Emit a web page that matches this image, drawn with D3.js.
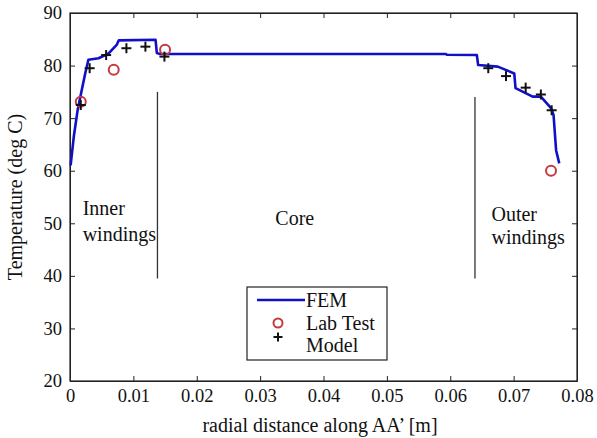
<!DOCTYPE html>
<html>
<head>
<meta charset="utf-8">
<script src="https://cdn.jsdelivr.net/npm/d3@7"></script>
<style>
  body { margin: 0; background: #fff; }
  svg text { font-family: "Liberation Serif", "DejaVu Serif", serif; fill: #111; }
  .axis text { font-size: 18.5px; }
  .axis path, .axis line { stroke: #222; }
</style>
</head>
<body>
<div id="chart"></div>
<script>
'use strict'

// FEM curve (radial distance [m], temperature [deg C])
var femX = [0.0001, 0.0006, 0.0012, 0.0018, 0.0024, 0.0029, 0.0045, 0.0061, 0.0074, 0.0077,
  0.0135, 0.0137, 0.0142, 0.0380, 0.0593, 0.0595, 0.0642, 0.0644, 0.0675, 0.0701,
  0.0703, 0.0730, 0.0743, 0.0759, 0.0763, 0.0767, 0.0772];
var femT = [61.0, 66.5, 71.5, 75.0, 78.5, 81.1, 81.4, 82.3, 84.0, 84.8,
  84.9, 82.4, 82.2, 82.2, 82.2, 82.05, 82.0, 80.1, 79.8, 78.5,
  75.7, 74.1, 74.1, 71.9, 70.6, 63.9, 61.4];

// Lab test points
var labX = [0.0017, 0.0069, 0.0150, 0.0759];
var labT = [73.1, 79.2, 83.0, 60.0];

// Model points
var modelX = [0.0017, 0.0031, 0.0057, 0.0089, 0.0119, 0.0149, 0.0660, 0.0688, 0.0719, 0.0743, 0.0760];
var modelT = [72.5, 79.5, 82.0, 83.3, 83.6, 81.7, 79.5, 78.0, 75.8, 74.5, 71.5];

// region dividers and labels
var dividerX = [0.0138, 0.0639];
var dividerTop = [75, 74];
var dividerBottom = [39.5, 39.5];
var regionNames = [['Inner', 'windings'], ['Core'], ['Outer', 'windings']];
var regionX = [0.0020, 0.0324, 0.0665];
var regionT = [51.6, 49.7, 50.4];
var regionDy = [26, 0, 23];

var xTicks = [0, 0.01, 0.02, 0.03, 0.04, 0.05, 0.06, 0.07, 0.08];
var yTicks = [20, 30, 40, 50, 60, 70, 80, 90];
var legendNames = ['FEM', 'Lab Test', 'Model'];

var width = 597, height = 438;
var margin = { top: 13, right: 20, bottom: 57, left: 70 };
var innerW = width - margin.left - margin.right;
var innerH = height - margin.top - margin.bottom;

var lineColor = '#1010c8';
var labColor = '#c43a3e';
var fontSize = 20;

var svg = d3.select('#chart').append('svg')
  .attr('width', width)
  .attr('height', height);

var g = svg.append('g')
  .attr('transform', 'translate(' + margin.left + ',' + margin.top + ')');

var x = d3.scaleLinear().domain([0, 0.08]).range([0, innerW]);
var y = d3.scaleLinear().domain([20, 90]).range([innerH, 0]);

// axes (ticks pointing inward, like matlab)
g.append('g')
  .attr('class', 'axis')
  .attr('transform', 'translate(0,' + innerH + ')')
  .call(d3.axisBottom(x).tickValues(xTicks).tickSizeInner(-5).tickSizeOuter(0).tickPadding(8)
    .tickFormat(function(d) { return d === 0 ? '0' : d3.format('.2f')(d); }));

g.append('g')
  .attr('class', 'axis')
  .call(d3.axisLeft(y).tickValues(yTicks).tickSizeInner(-5).tickSizeOuter(0).tickPadding(8));

g.append('g')
  .attr('class', 'axis')
  .call(d3.axisTop(x).tickValues(xTicks).tickSizeInner(-5).tickSizeOuter(0).tickFormat(''));

g.append('g')
  .attr('class', 'axis')
  .attr('transform', 'translate(' + innerW + ',0)')
  .call(d3.axisRight(y).tickValues(yTicks).tickSizeInner(-5).tickSizeOuter(0).tickFormat(''));

g.selectAll('.axis text')
  .attr('font-family', null)
  .attr('font-size', null);

g.append('rect')
  .attr('width', innerW)
  .attr('height', innerH)
  .attr('fill', 'none')
  .attr('stroke', '#222')
  .attr('stroke-width', 1.2);

// dividers
g.selectAll('.divider')
  .data(dividerX)
  .enter()
  .append('line')
  .attr('class', 'divider')
  .attr('x1', function(d) { return x(d); })
  .attr('x2', function(d) { return x(d); })
  .attr('y1', function(d, i) { return y(dividerTop[i]); })
  .attr('y2', function(d, i) { return y(dividerBottom[i]); })
  .attr('stroke', '#333')
  .attr('stroke-width', 1.3);

// region labels
regionNames.forEach(function(lines, i) {
  var t = g.append('text')
    .attr('x', x(regionX[i]))
    .attr('y', y(regionT[i]))
    .attr('font-size', fontSize);
  lines.forEach(function(s, j) {
    t.append('tspan')
      .attr('x', x(regionX[i]))
      .attr('dy', j === 0 ? 0 : regionDy[i])
      .text(s);
  });
});

// FEM line
var femData = femX.map(function(v, i) { return [v, femT[i]]; });
g.append('path')
  .datum(femData)
  .attr('fill', 'none')
  .attr('stroke', lineColor)
  .attr('stroke-width', 2.6)
  .attr('stroke-linejoin', 'round')
  .attr('d', d3.line()
    .x(function(d) { return x(d[0]); })
    .y(function(d) { return y(d[1]); }));

// Lab test circles
g.selectAll('.lab')
  .data(labX)
  .enter()
  .append('circle')
  .attr('class', 'lab')
  .attr('cx', function(d) { return x(d); })
  .attr('cy', function(d, i) { return y(labT[i]); })
  .attr('r', 5)
  .attr('fill', 'none')
  .attr('stroke', labColor)
  .attr('stroke-width', 2);

// Model crosses
function cross(sel, s) {
  sel.append('line').attr('x1', -s).attr('x2', s).attr('y1', 0).attr('y2', 0);
  sel.append('line').attr('x1', 0).attr('x2', 0).attr('y1', -s).attr('y2', s);
  sel.attr('stroke', '#111').attr('stroke-width', 2);
}

g.selectAll('.model')
  .data(modelX)
  .enter()
  .append('g')
  .attr('class', 'model')
  .attr('transform', function(d, i) { return 'translate(' + x(d) + ',' + y(modelT[i]) + ')'; })
  .each(function() { cross(d3.select(this), 5); });

// legend
var legend = svg.append('g').attr('transform', 'translate(247,287)');
legend.append('rect')
  .attr('width', 140)
  .attr('height', 73)
  .attr('fill', '#fff')
  .attr('stroke', '#222')
  .attr('stroke-width', 1.2);

legend.append('line')
  .attr('x1', 10).attr('x2', 58)
  .attr('y1', 13).attr('y2', 13)
  .attr('stroke', lineColor)
  .attr('stroke-width', 2.6);
legend.append('circle')
  .attr('cx', 31).attr('cy', 36).attr('r', 4.5)
  .attr('fill', 'none')
  .attr('stroke', labColor)
  .attr('stroke-width', 2);
legend.append('g')
  .attr('transform', 'translate(31,50)')
  .call(cross, 4.5);

legend.selectAll('.ltext')
  .data(legendNames)
  .enter()
  .append('text')
  .attr('class', 'ltext')
  .attr('x', 59)
  .attr('y', function(d, i) { return 20 + i * 22.5; })
  .attr('font-size', fontSize)
  .text(function(d) { return d; });

// axis labels
svg.append('text')
  .attr('text-anchor', 'middle')
  .attr('x', 320)
  .attr('y', 432)
  .attr('font-size', fontSize)
  .text('radial distance along AA\u2019 [m]');

svg.append('text')
  .attr('text-anchor', 'middle')
  .attr('transform', 'translate(22,' + (margin.top + innerH / 2) + ') rotate(-90)')
  .attr('font-size', fontSize)
  .text('Temperature (deg C)');
</script>
</body>
</html>
